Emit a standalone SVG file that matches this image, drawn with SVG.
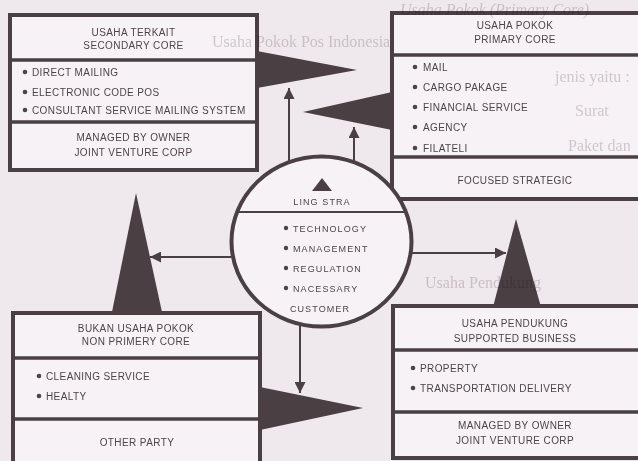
<svg xmlns="http://www.w3.org/2000/svg" width="638" height="461" viewBox="0 0 638 461">
  <defs>
    <style>
      .page { fill: #efe9ed; }
      .box { fill: #f6f2f5; stroke: #4a3f43; stroke-width: 4; }
      .sep { stroke: #4a3f43; stroke-width: 3.5; }
      .ring { fill: #f6f2f5; stroke: #4a3f43; stroke-width: 4; }
      .ring-sep { stroke: #4a3f43; stroke-width: 2; }
      .wedge { fill: #4a3f43; }
      .dot { fill: #4e4448; }
      .t { font-family: "Liberation Sans", Arial, sans-serif; font-size: 10px; fill: #4e4448; letter-spacing: 0.4px; }
      .c { text-anchor: middle; }
      .ct { font-family: "Liberation Sans", Arial, sans-serif; font-size: 9px; fill: #4e4448; letter-spacing: 1.1px; }
      .link { stroke: #4a3f43; stroke-width: 2; fill: none; marker-end: url(#head); }
      .faint { font-family: "Liberation Serif", "Times New Roman", serif; font-size: 16px; fill: #c9bec4; mix-blend-mode: multiply; opacity: 0.7; }
    </style>
    <marker id="head" viewBox="0 0 10 10" refX="10" refY="5" markerWidth="11" markerHeight="11" markerUnits="userSpaceOnUse" orient="auto">
      <path d="M0,0 L10,5 L0,10 z" fill="#4a3f43"/>
    </marker>
  </defs>

  <rect class="page" x="0" y="0" width="638" height="461"/>

  <!-- wedges pointing from the four business groups -->
  <g id="wedges">
    <polygon class="wedge" points="257,51 257,88 357,70"/>
    <polygon class="wedge" points="392,92 392,130 303,112"/>
    <polygon class="wedge" points="112,312 162,312 136,193"/>
    <polygon class="wedge" points="493,307 541,307 516,219"/>
    <polygon class="wedge" points="260,387 260,430 363,408"/>
  </g>

  <!-- secondary core -->
  <g id="secondary-core">
    <rect class="box" x="10" y="15" width="247" height="155"/>
    <line class="sep" x1="10" y1="60" x2="257" y2="60"/>
    <line class="sep" x1="10" y1="122" x2="257" y2="122"/>
    <text class="t c" x="133.5" y="35.5">USAHA TERKAIT</text>
    <text class="t c" x="133.5" y="48.5">SECONDARY CORE</text>
    <circle class="dot" cx="25" cy="72" r="2.3"/>
    <text class="t" x="32" y="75.5">DIRECT MAILING</text>
    <circle class="dot" cx="25" cy="92" r="2.3"/>
    <text class="t" x="32" y="95.5">ELECTRONIC CODE POS</text>
    <circle class="dot" cx="25" cy="110" r="2.3"/>
    <text class="t" x="32" y="113.5">CONSULTANT SERVICE MAILING SYSTEM</text>
    <text class="t c" x="133.5" y="140.5">MANAGED BY OWNER</text>
    <text class="t c" x="133.5" y="155.5">JOINT VENTURE CORP</text>
  </g>

  <!-- primary core -->
  <g id="primary-core">
    <rect class="box" x="392" y="13" width="250" height="186"/>
    <line class="sep" x1="392" y1="55" x2="642" y2="55"/>
    <line class="sep" x1="392" y1="157" x2="642" y2="157"/>
    <text class="t c" x="515" y="28.5">USAHA POKOK</text>
    <text class="t c" x="515" y="42.5">PRIMARY CORE</text>
    <circle class="dot" cx="415" cy="67" r="2.3"/>
    <text class="t" x="423" y="70.5">MAIL</text>
    <circle class="dot" cx="415" cy="87" r="2.3"/>
    <text class="t" x="423" y="90.5">CARGO PAKAGE</text>
    <circle class="dot" cx="415" cy="107" r="2.3"/>
    <text class="t" x="423" y="110.5">FINANCIAL SERVICE</text>
    <circle class="dot" cx="415" cy="127" r="2.3"/>
    <text class="t" x="423" y="130.5">AGENCY</text>
    <circle class="dot" cx="415" cy="148" r="2.3"/>
    <text class="t" x="423" y="151.5">FILATELI</text>
    <text class="t c" x="515" y="183.5">FOCUSED STRATEGIC</text>
  </g>

  <!-- non primary core -->
  <g id="non-primary-core">
    <rect class="box" x="13" y="313" width="247" height="152"/>
    <line class="sep" x1="13" y1="358" x2="260" y2="358"/>
    <line class="sep" x1="13" y1="419" x2="260" y2="419"/>
    <text class="t c" x="136" y="331.5">BUKAN USAHA POKOK</text>
    <text class="t c" x="136" y="344.5">NON PRIMERY CORE</text>
    <circle class="dot" cx="39" cy="376" r="2.3"/>
    <text class="t" x="46" y="379.5">CLEANING SERVICE</text>
    <circle class="dot" cx="39" cy="396" r="2.3"/>
    <text class="t" x="46" y="399.5">HEALTY</text>
    <text class="t c" x="137" y="445.5">OTHER PARTY</text>
  </g>

  <!-- supported business -->
  <g id="supported-business">
    <rect class="box" x="393" y="306" width="250" height="152"/>
    <line class="sep" x1="393" y1="350" x2="643" y2="350"/>
    <line class="sep" x1="393" y1="412" x2="643" y2="412"/>
    <text class="t c" x="515" y="326.5">USAHA PENDUKUNG</text>
    <text class="t c" x="515" y="341.5">SUPPORTED BUSINESS</text>
    <circle class="dot" cx="413" cy="368" r="2.3"/>
    <text class="t" x="420" y="371.5">PROPERTY</text>
    <circle class="dot" cx="413" cy="388" r="2.3"/>
    <text class="t" x="420" y="391.5">TRANSPORTATION DELIVERY</text>
    <text class="t c" x="515" y="428.5">MANAGED BY OWNER</text>
    <text class="t c" x="515" y="443.5">JOINT VENTURE CORP</text>
  </g>

  <!-- central ring -->
  <g id="ling-stra">
    <ellipse class="ring" cx="321.5" cy="241.5" rx="90" ry="85"/>
    <line class="ring-sep" x1="237" y1="212" x2="406" y2="212"/>
    <polygon class="wedge" points="312,191 332,191 322,178"/>
    <text class="ct c" x="322" y="205">LING STRA</text>
    <circle class="dot" cx="286" cy="228" r="2.2"/>
    <text class="ct" x="293" y="231.5">TECHNOLOGY</text>
    <circle class="dot" cx="286" cy="248" r="2.2"/>
    <text class="ct" x="293" y="251.5">MANAGEMENT</text>
    <circle class="dot" cx="286" cy="268" r="2.2"/>
    <text class="ct" x="293" y="271.5">REGULATION</text>
    <circle class="dot" cx="286" cy="288" r="2.2"/>
    <text class="ct" x="293" y="291.5">NACESSARY</text>
    <text class="ct c" x="320" y="312">CUSTOMER</text>
  </g>

  <!-- connectors from the ring -->
  <g id="connectors">
    <line class="link" x1="289" y1="163" x2="289" y2="88"/>
    <line class="link" x1="354" y1="163" x2="354" y2="127"/>
    <line class="link" x1="233" y1="257" x2="150" y2="257"/>
    <line class="link" x1="410" y1="253" x2="506" y2="253"/>
    <line class="link" x1="300" y1="325" x2="300" y2="393"/>
  </g>

  <!-- printed page text showing faintly through the figure -->
  <g id="page-text">
    <text class="faint" x="400" y="15" font-size="11" font-style="italic">Usaha Pokok (Primary Core)</text>
    <text class="faint" x="212" y="47" font-size="15">Usaha Pokok Pos Indonesia</text>
    <text class="faint" x="555" y="82">jenis yaitu :</text>
    <text class="faint" x="575" y="116">Surat</text>
    <text class="faint" x="568" y="151">Paket dan</text>
    <text class="faint" x="425" y="288">Usaha Pendukung</text>
  </g>
</svg>
